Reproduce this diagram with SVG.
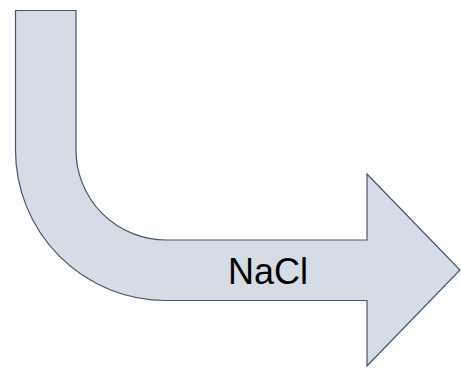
<svg xmlns="http://www.w3.org/2000/svg" width="461" height="368" viewBox="0 0 461 368">
<style>
.shape{fill:#D6DCE5;stroke:#44546A;stroke-width:1.2;stroke-linejoin:miter}
.lbl{font-family:"Liberation Sans",Arial,sans-serif;font-size:37px;fill:#000}
</style>
<rect width="461" height="368" fill="#fff"/>
<g id="bent-arrow">
<path class="shape" d="M15.5,10.5 H76 V150 A90,90 0 0 0 166,240 H367 V174 L460,270 L367,366 V300.5 H166 A150.5,150.5 0 0 1 15.5,150 Z"/>
<text class="lbl" x="228" y="284" textLength="80" lengthAdjust="spacingAndGlyphs">NaCl</text>
</g>
</svg>
